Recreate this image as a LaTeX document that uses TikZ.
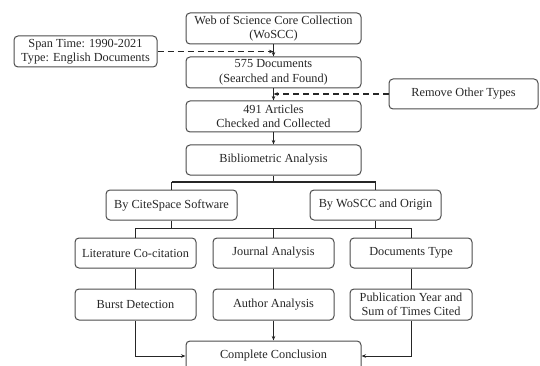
\documentclass[tikz,border=0pt]{standalone}
\usepackage{fontspec}
\setmainfont{Liberation Serif}
\usetikzlibrary{arrows.meta}
\tikzset{
  box/.style={draw=black!70, line width=1pt, rounded corners=4pt, align=center,
    font=\fontsize{12.3}{14.5}\selectfont, inner sep=1pt, text=black!85},
  link/.style={draw=black!85, line width=1pt},
  arr/.style={link, -{Stealth[length=4.5pt,width=3.5pt]}},
  dashlink/.style={arr, dash pattern=on 6pt off 4pt, line width=1.1pt}
}
\begin{document}
\begin{tikzpicture}[x=1pt,y=-1pt]
			\useasboundingbox (0,0) rectangle (540,366);
			\node[box, minimum width=175pt, minimum height=31pt] (top) at (273.5,28.5) {Web of Science Core Collection\\(WoSCC)};
			\node[box, minimum width=143pt, minimum height=31pt] (span) at (85.5,51.5) {Span Time: 1990-2021\\Type: English Documents};
			\node[box, minimum width=175pt, minimum height=31pt] (docs) at (273.5,72.5) {575 Documents\\(Searched and Found)};
			\node[box, minimum width=149pt, minimum height=30pt] (remove) at (463.5,94) {Remove Other Types};
			\node[box, minimum width=175pt, minimum height=31pt] (arts) at (273.5,116.5) {491 Articles\\Checked and Collected};
			\node[box, minimum width=175pt, minimum height=30pt] (bib) at (273.5,160) {Bibliometric Analysis};
			
			\node[box, minimum width=131pt, minimum height=30pt] (cite) at (171.5,205) {By CiteSpace Software};
			\node[box, minimum width=131pt, minimum height=30pt] (wos) at (375.5,205) {By WoSCC and Origin};
			
			\node[box, minimum width=121pt, minimum height=30pt] (lit) at (135.5,253) {Literature Co-citation};
			\node[box, minimum width=121pt, minimum height=30pt] (jour) at (273.5,253) {Journal Analysis};
			\node[box, minimum width=122pt, minimum height=30pt] (dtype) at (411,253) {Documents Type};
			\node[box, minimum width=121pt, minimum height=31pt] (burst) at (135.5,304.5) {Burst Detection};
			\node[box, minimum width=121pt, minimum height=31pt] (auth) at (273.5,304.5) {Author Analysis};
			\node[box, minimum width=122pt, minimum height=31pt] (pub) at (411,304.5) {Publication Year and\\Sum of Times Cited};
			\node[box, minimum width=175pt, minimum height=30pt] (concl) at (273.5,356) {Complete Conclusion};
			
			\coordinate (split1) at (273.5,182);
			\coordinate (split2) at (273.5,228);
			
			\draw[arr] (top) -- (docs);
			\draw[dashlink] (span.east) -- (span.east -| top.south);
			\draw[arr] (docs) -- (arts);
			\draw[dashlink] (remove.west) -- (remove.west -| docs.south);
			\draw[arr] (arts) -- (bib);
			
			\draw[link, line width=1.4pt] (bib.south) -- (split1);
			\draw[link, line width=1.4pt] (split1 -| cite.north) -- (split1 -| wos.north);
			\draw[link, line width=1.4pt] (split1 -| cite.north) -- (cite.north);
			\draw[link, line width=1.4pt] (split1 -| wos.north) -- (wos.north);
			
			\draw[link] (cite.south) -- (cite.south |- split2);
			\draw[link] (wos.south) -- (wos.south |- split2);
			\draw[link] (split2 -| lit.north) -- (split2 -| dtype.north);
			\draw[link] (split2 -| lit.north) -- (lit.north);
			\draw[link] (split2) -- (jour.north);
			\draw[link] (split2 -| dtype.north) -- (dtype.north);
			
			\draw[link] (lit) -- (burst);
			\draw[link] (jour) -- (auth);
			\draw[link] (dtype) -- (pub);
			
			\draw[arr] (burst.south) |- (concl.west);
			\draw[arr] (auth) -- (concl);
			\draw[arr] (pub.south) |- (concl.east);
			
		\end{tikzpicture}
\end{document}
